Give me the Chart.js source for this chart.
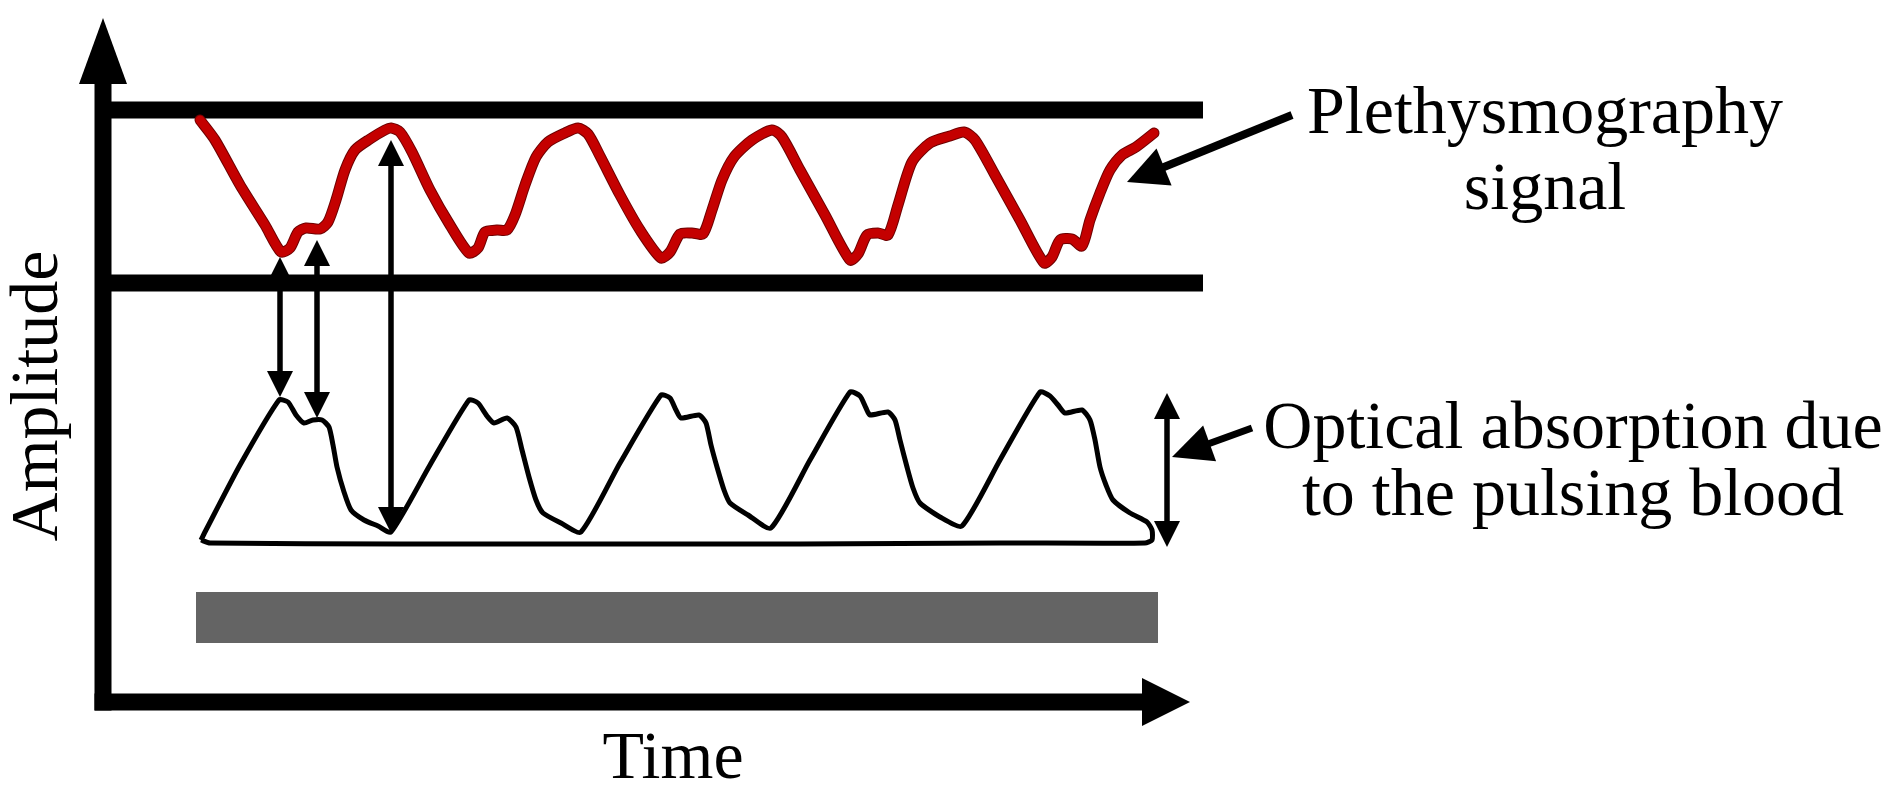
<!DOCTYPE html>
<html lang="en">

<head>
  <meta charset="UTF-8">
  <title>Plethysmography</title>
  <script src="https://cdn.jsdelivr.net/npm/chart.js"></script>
  <style>
    body { margin: 0; background: #fff; }
    #wrap { width: 1898px; height: 791px; }
  </style>
</head>

<body>
  <div id="wrap"><canvas id="ppgChart"></canvas></div>

  <script>
    // time / amplitude, origin at the corner of the axes
    const redTime = [97, 112, 137, 162, 178, 187, 195, 203, 217, 225, 233, 242, 252, 267, 282, 288, 297, 309, 327, 347,
      366, 375, 382, 394, 404, 412, 422, 433, 445, 462, 475, 485, 497, 517, 537,
      558, 567, 577, 589, 600, 609, 619, 631, 649, 669, 679, 697, 722,
      747, 755, 764, 775, 785, 795, 809, 827, 847, 861, 872, 892, 917,
      941, 949, 957, 969, 979, 987, 997, 1007, 1019, 1033, 1051];
    const redAmp = [582, 562, 517, 477, 450, 454, 470, 474, 473, 480, 502, 532, 552, 563, 572, 574, 570, 550, 512, 477,
      449, 454, 470, 472, 472, 487, 517, 545, 560, 569, 574, 568, 546, 507, 472,
      444, 450, 468, 469, 468, 492, 522, 545, 562, 572, 565, 532, 487,
      442, 448, 467, 469, 467, 497, 540, 559, 566, 570, 562, 527, 482,
      439, 445, 462, 463, 456, 482, 509, 532, 547, 555, 569];

    const blackTime = [98, 103, 137, 176, 185, 193, 201, 210, 219, 226, 230, 234, 241, 248, 261, 275,
      288, 327, 366, 375, 384, 391, 404, 413, 419, 426, 433, 440, 458,
      478, 517, 558, 567, 573, 578, 596, 603, 608, 614, 621, 627, 645,
      668, 707, 747, 757, 763, 767, 785, 792, 797, 804, 810, 817, 837,
      859, 897, 937, 947, 955, 962, 979, 987, 992, 997, 1003, 1010, 1027, 1044,
      1049, 1049, 1042, 897, 697, 497, 297, 107, 98];
    const blackAmp = [162, 172, 237, 302, 300, 287, 279, 282, 282, 275, 257, 235, 210, 192, 182, 176,
      170, 237, 302, 299, 286, 279, 284, 275, 252, 225, 202, 189, 179,
      170, 239, 307, 304, 292, 284, 287, 279, 257, 235, 212, 199, 187,
      174, 242, 310, 306, 294, 287, 290, 282, 262, 235, 214, 199, 185,
      176, 242, 310, 306, 297, 289, 292, 282, 262, 235, 217, 202, 189, 180,
      172, 162, 159, 159, 158, 158, 158, 159, 162];

    // the two horizontal band lines and the grey bar
    const bandLevels = [592, 419];
    const bandSpan = [0, 1100];
    const barLevel = 84.5;
    const barSpan = [93, 1055];

    // vertical double arrows: time, upper tip, lower tip
    const arrowTime = [177, 214, 288, 1064];
    const arrowTop = [445, 462, 562, 309];
    const arrowBottom = [305, 284, 169, 155];

    const toPoints = (xs, ys) => xs.map((x, i) => ({ x: x, y: ys[i] }));

    // chart.js paints the first dataset on top, so the traces come first
    const datasets = [];
    datasets.push({
      data: toPoints(redTime, redAmp),
      borderColor: '#c40000',
      borderWidth: 9,
      borderJoinStyle: 'round',
      borderCapStyle: 'round',
      tension: 0.25,
      pointRadius: 0
    });
    // thin dark rim under the red trace
    datasets.push({
      data: toPoints(redTime, redAmp),
      borderColor: '#6e0000',
      borderWidth: 11,
      borderJoinStyle: 'round',
      borderCapStyle: 'round',
      tension: 0.25,
      pointRadius: 0
    });
    datasets.push({
      data: toPoints(blackTime, blackAmp),
      borderColor: '#000',
      borderWidth: 5,
      borderJoinStyle: 'round',
      tension: 0.2,
      pointRadius: 0
    });
    bandLevels.forEach(level => {
      datasets.push({
        data: toPoints(bandSpan, [level, level]),
        borderColor: '#000',
        borderWidth: 17,
        borderCapStyle: 'butt',
        pointRadius: 0
      });
    });
    datasets.push({
      data: toPoints(barSpan, [barLevel, barLevel]),
      borderColor: '#646464',
      borderWidth: 51,
      borderCapStyle: 'butt',
      pointRadius: 0
    });

    const serif = '"Liberation Serif", "Times New Roman", serif';

    function arrowHead(ctx, x1, y1, x2, y2, len, half) {
      const a = Math.atan2(y2 - y1, x2 - x1);
      const bx = x2 - len * Math.cos(a), by = y2 - len * Math.sin(a);
      ctx.beginPath();
      ctx.moveTo(x2, y2);
      ctx.lineTo(bx + half * Math.sin(a), by - half * Math.cos(a));
      ctx.lineTo(bx - half * Math.sin(a), by + half * Math.cos(a));
      ctx.closePath();
      ctx.fill();
    }

    function arrow(ctx, x1, y1, x2, y2, width, len, half, both) {
      const a = Math.atan2(y2 - y1, x2 - x1);
      const k = len * 0.7;
      ctx.lineWidth = width;
      ctx.beginPath();
      ctx.moveTo(both ? x1 + k * Math.cos(a) : x1, both ? y1 + k * Math.sin(a) : y1);
      ctx.lineTo(x2 - k * Math.cos(a), y2 - k * Math.sin(a));
      ctx.stroke();
      arrowHead(ctx, x1, y1, x2, y2, len, half);
      if (both) arrowHead(ctx, x2, y2, x1, y1, len, half);
    }

    const decorations = {
      id: 'decorations',
      afterDatasetsDraw(chart) {
        const ctx = chart.ctx;
        const sx = chart.scales.x, sy = chart.scales.y;
        const px = v => sx.getPixelForValue(v);
        const py = v => sy.getPixelForValue(v);
        ctx.save();
        ctx.fillStyle = '#000';
        ctx.strokeStyle = '#000';
        ctx.lineCap = 'butt';

        // axes with arrow heads
        arrow(ctx, px(0), py(-8.5), px(0), py(684), 17, 66, 24, false);
        arrow(ctx, px(-8.5), py(0), px(1087), py(0), 17, 48, 24, false);

        // double arrows between the two traces
        arrowTime.forEach((t, i) => {
          arrow(ctx, px(t), py(arrowBottom[i]), px(t), py(arrowTop[i]), 5.5, 26, 13, true);
        });

        // pointers to the labels
        arrow(ctx, px(1189), py(587), px(1024), py(520), 8, 40, 20, false);
        arrow(ctx, px(1149), py(274), px(1069), py(245), 7, 40, 19, false);

        // labels
        ctx.font = '68px ' + serif;
        ctx.textBaseline = 'alphabetic';
        ctx.textAlign = 'center';
        ctx.fillText('Plethysmography', px(1442), py(569));
        ctx.fillText('signal', px(1442), py(493));
        ctx.fillText('Optical absorption due', px(1470), py(254));
        ctx.fillText('to the pulsing blood', px(1470), py(187));
        ctx.fillText('Time', px(570), py(-76));

        ctx.translate(px(-46), py(306));
        ctx.rotate(-Math.PI / 2);
        ctx.fillText('Amplitude', 0, 0);
        ctx.restore();
      }
    };

    new Chart(document.getElementById('ppgChart'), {
      type: 'line',
      data: { datasets: datasets },
      options: {
        responsive: true,
        maintainAspectRatio: false,
        animation: false,
        layout: { padding: 0 },
        plugins: { legend: { display: false }, tooltip: { enabled: false } },
        scales: {
          x: { type: 'linear', min: -103, max: 1795, display: false },
          y: { type: 'linear', min: -89, max: 702, display: false }
        }
      },
      plugins: [decorations]
    });
  </script>
</body>

</html>
